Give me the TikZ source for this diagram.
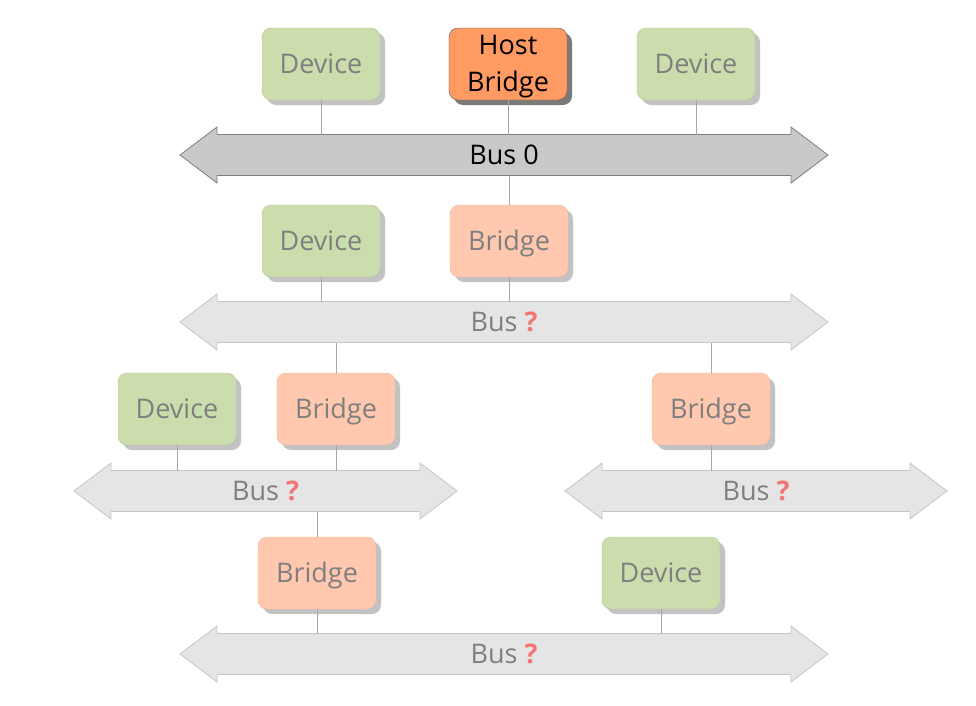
\documentclass[tikz,border=0pt]{standalone}
\usepackage{fontspec}
\setmainfont{Open Sans}
\usetikzlibrary{shadows}
\definecolor{devfill}{HTML}{CBDDAD}
\definecolor{devline}{HTML}{B4C79A}
\definecolor{brfill}{HTML}{FFC8AF}
\definecolor{brline}{HTML}{EDB49C}
\definecolor{hostfill}{HTML}{FF9A62}
\definecolor{hostline}{HTML}{5A5A5A}
\definecolor{hostshadow}{HTML}{7A7A7A}
\definecolor{boxshadow}{HTML}{C2C2C2}
\definecolor{txtgray}{HTML}{7F7F7F}
\definecolor{qred}{HTML}{F27474}
\definecolor{busfill}{HTML}{E5E5E5}
\definecolor{busline}{HTML}{C6C6C6}
\definecolor{bus0fill}{HTML}{C9C9C9}
\definecolor{bus0line}{HTML}{7F7F7F}
\definecolor{linkgray}{HTML}{A6A6A6}
\tikzstyle{box}=[rounded corners=9pt, minimum width=118pt, minimum height=72pt, inner sep=0pt, align=center, text=txtgray]
\tikzstyle{oneline}=[text height=19pt, text depth=0pt]
\tikzstyle{device}=[box, oneline, draw=devline, fill=devfill, drop shadow={shadow xshift=5pt, shadow yshift=-5pt, fill=boxshadow, opacity=1}]
\tikzstyle{bridge}=[box, oneline, draw=brline, fill=brfill, drop shadow={shadow xshift=5pt, shadow yshift=-5pt, fill=boxshadow, opacity=1}]
\tikzstyle{hostbridge}=[box, text height=54pt, text depth=0pt, draw=hostline, fill=hostfill, text=black, drop shadow={shadow xshift=5pt, shadow yshift=-5pt, fill=hostshadow, opacity=1}]
\tikzstyle{busbody}=[inner sep=0pt, outer sep=0pt, minimum height=41pt]
\tikzstyle{bus}=[draw=busline, fill=busfill, line width=0.8pt]
\tikzstyle{bus0}=[draw=bus0line, fill=bus0fill, line width=0.8pt]
\tikzstyle{link}=[draw=linkgray, line width=0.8pt]
\providecommand{\device}{\node[device]}
\providecommand{\bridge}{\node[bridge]}
\providecommand{\qmark}{\textcolor{qred}{\textbf{?}}}
% name, centre, length, style, text
\providecommand{\busarrow}[5]{%
  \node[busbody, minimum width=#3] (#1) at #2 {};
  \path[#4] (#1.west) -- ([xshift=37pt,yshift=7.5pt]#1.north west)
    -- ([xshift=37pt]#1.north west) -- ([xshift=-37pt]#1.north east)
    -- ([xshift=-37pt,yshift=7.5pt]#1.north east) -- (#1.east)
    -- ([xshift=-37pt,yshift=-7.5pt]#1.south east) -- ([xshift=-37pt]#1.south east)
    -- ([xshift=37pt]#1.south west) -- ([xshift=37pt,yshift=-7.5pt]#1.south west)
    -- cycle;
  \node[oneline, inner sep=0pt] (#1-text) at (#1) {#5};
}

\begin{document}
\begin{tikzpicture}[x=1pt, y=-1pt, font=\fontsize{27pt}{37pt}\selectfont]
\useasboundingbox (0,0) rectangle (976,705);
% bus 0
\device (dev01) at (321,64) {Device};
\node[hostbridge] (host) at (508,64) {Host\\Bridge};
\device (dev02) at (696,64) {Device};
\busarrow{bus0}{(504,155)}{648pt}{bus0}{Bus 0}
% first level
\device (dev11) at (321,241) {Device};
\bridge (br11) at (509,241) {Bridge};
\busarrow{bus1}{(504,322)}{648pt}{bus}{\textcolor{txtgray}{Bus \qmark}}
% second level
\device (dev21) at (177,409) {Device};
\bridge (br21) at (336,409) {Bridge};
\bridge (br22) at (711,409) {Bridge};
\busarrow{bus21}{(265.5,491)}{383pt}{bus}{\textcolor{txtgray}{Bus \qmark}}
\busarrow{bus22}{(756,491)}{382pt}{bus}{\textcolor{txtgray}{Bus \qmark}}
% third level
\bridge (br31) at (317,573) {Bridge};
\device (dev31) at (661,573) {Device};
\busarrow{bus3}{(504,654)}{648pt}{bus}{\textcolor{txtgray}{Bus \qmark}}
% links
\path[link]
(dev01.south) -- (dev01.south |- bus0.north)
(host.south) -- (host.south |- bus0.north)
(dev02.south) -- (dev02.south |- bus0.north)
(br11.north) -- (br11.north |- bus0.south)
(dev11.south) -- (dev11.south |- bus1.north)
(br11.south) -- (br11.south |- bus1.north)
(br21.north) -- (br21.north |- bus1.south)
(br22.north) -- (br22.north |- bus1.south)
(dev21.south) -- (dev21.south |- bus21.north)
(br21.south) -- (br21.south |- bus21.north)
(br22.south) -- (br22.south |- bus22.north)
(br31.north) -- (br31.north |- bus21.south)
(br31.south) -- (br31.south |- bus3.north)
(dev31.south) -- (dev31.south |- bus3.north)
;
\end{tikzpicture}
\end{document}
